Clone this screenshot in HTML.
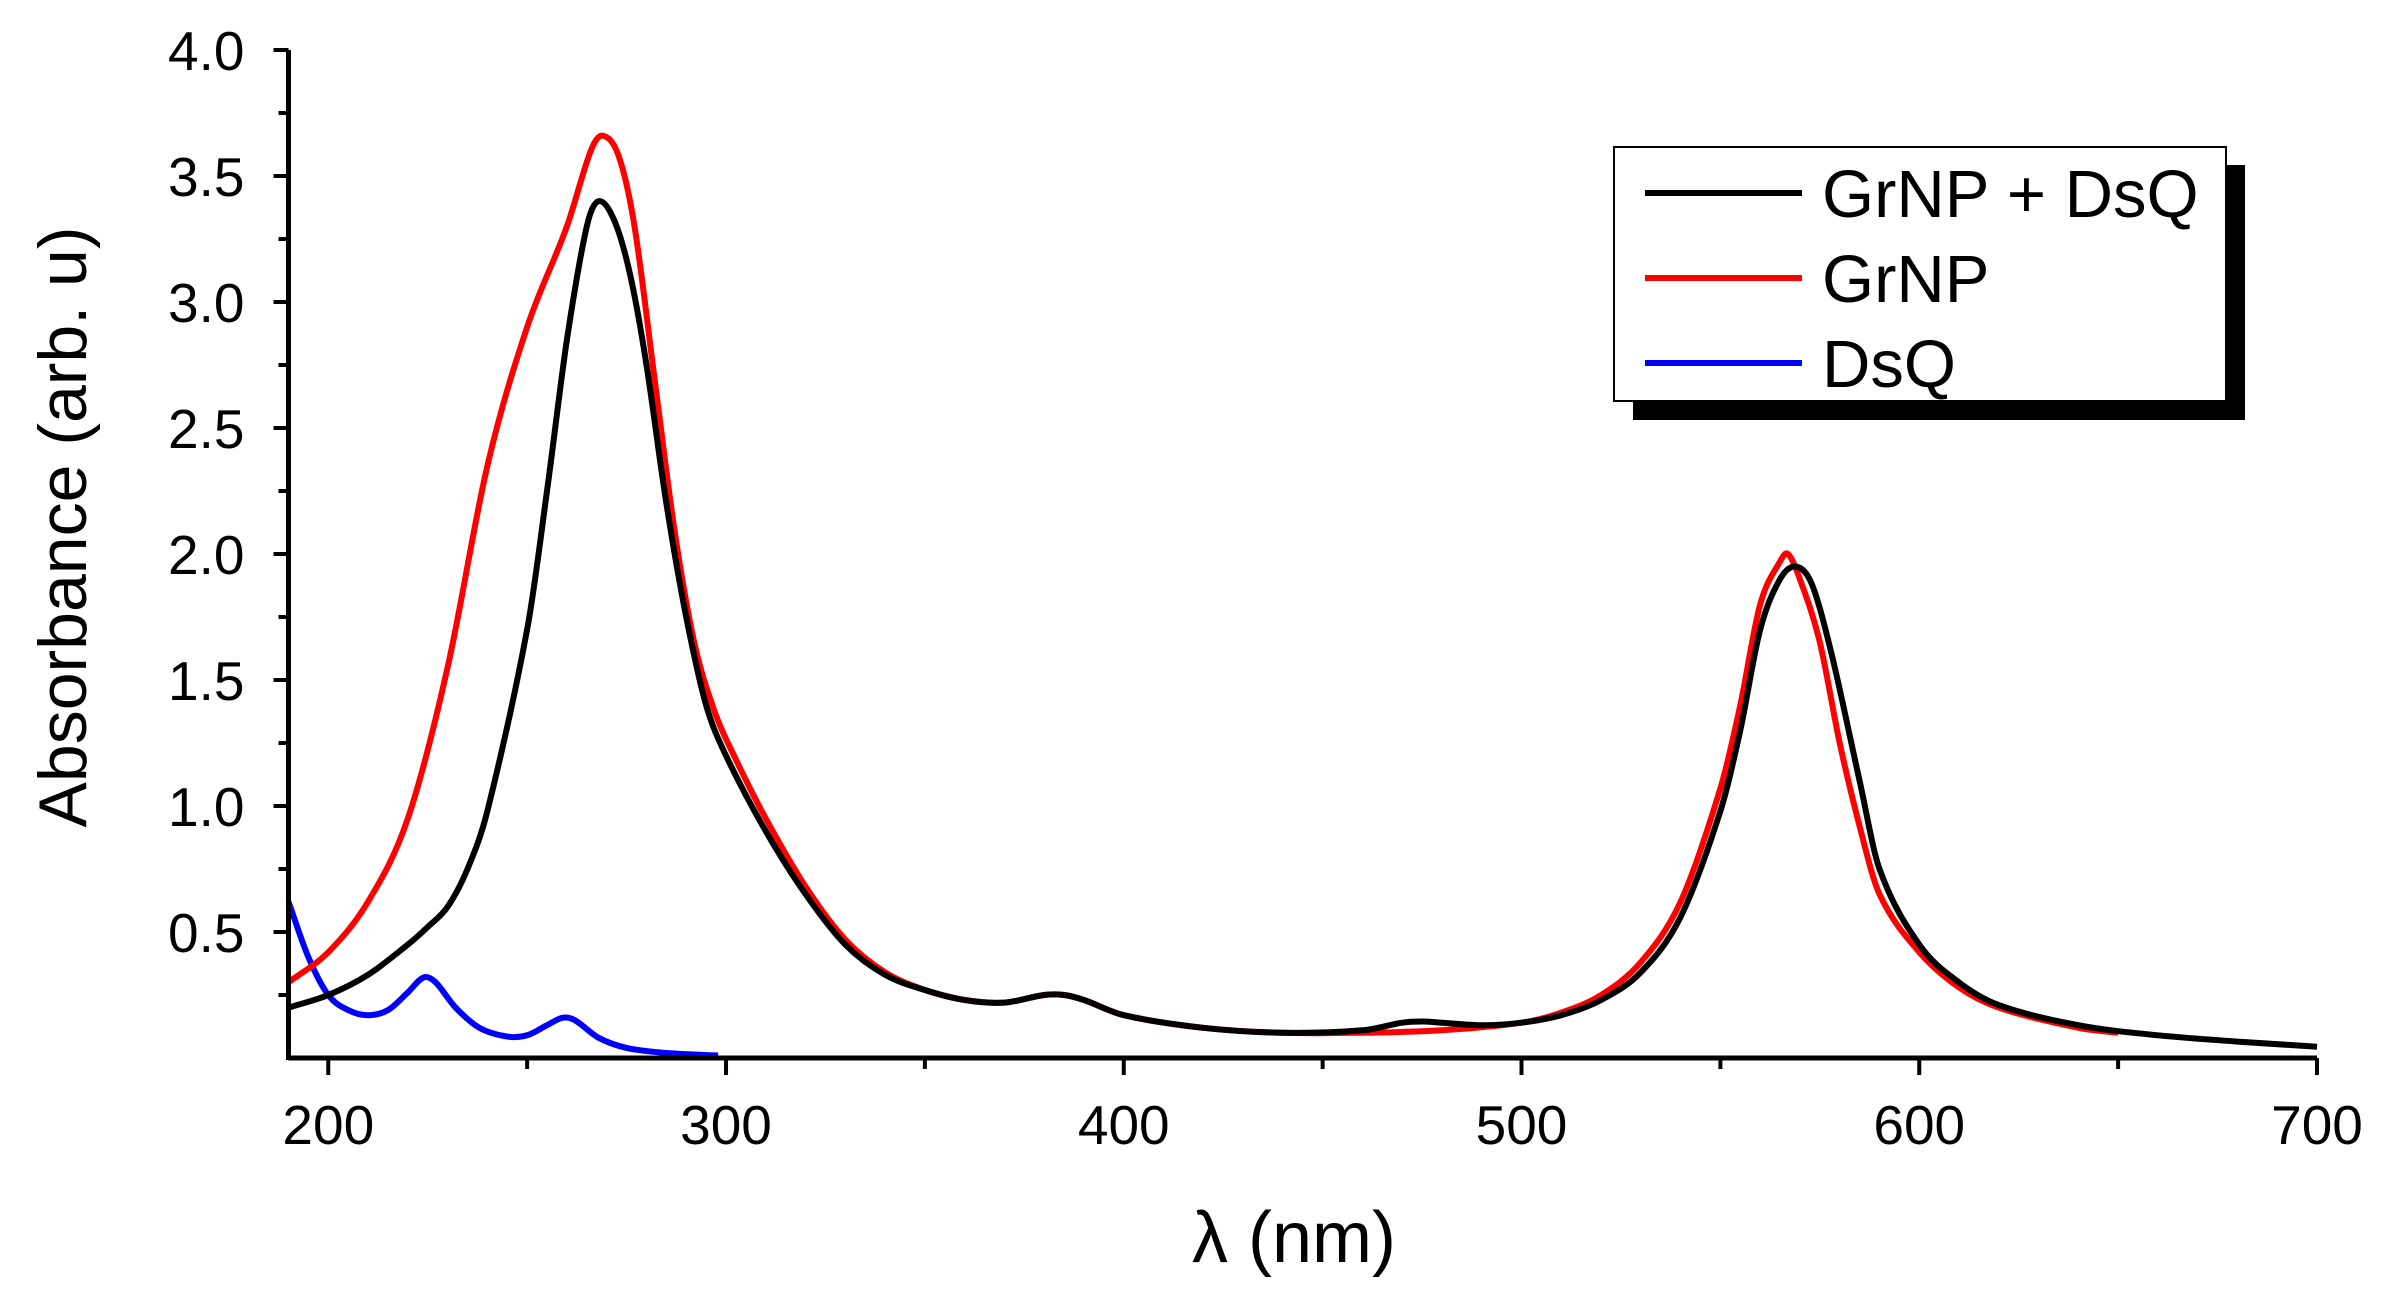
<!DOCTYPE html>
<html><head><meta charset="utf-8"><style>
html,body{margin:0;padding:0;background:#fff;}
svg{display:block;}
text{font-family:"Liberation Sans",Arial,sans-serif;fill:#000;}
</style></head><body>
<svg id="chart" width="2381" height="1296" viewBox="0 0 2381 1296" xmlns="http://www.w3.org/2000/svg">
<g id="plot"></g>
<g id="axes"></g>
<g id="legend">
  <rect x="1633" y="165" width="612" height="255" fill="#000"/>
  <rect x="1614" y="147" width="612" height="254" fill="#fff" stroke="#000" stroke-width="2"/>
  <g>
    <line x1="1645" y1="193" x2="1802" y2="193" stroke="#000" stroke-width="6"/>
    <text x="1822" y="217" font-size="67">GrNP + DsQ</text>
  </g>
  <g>
    <line x1="1645" y1="278" x2="1802" y2="278" stroke="#f00" stroke-width="6"/>
    <text x="1822" y="302" font-size="67">GrNP</text>
  </g>
  <g>
    <line x1="1645" y1="363" x2="1802" y2="363" stroke="#00f" stroke-width="6"/>
    <text x="1822" y="387" font-size="67">DsQ</text>
  </g>
</g>
<text x="1294" y="1262" font-size="72" text-anchor="middle">λ (nm)</text>
<text transform="translate(86,527) rotate(-90)" font-size="68" text-anchor="middle">Absorbance (arb. u)</text>
</svg>
<script>
const xTicks = [200, 300, 400, 500, 600, 700];
const yTicks = [0.5, 1.0, 1.5, 2.0, 2.5, 3.0, 3.5, 4.0];
const yTickLabels = ["0.5", "1.0", "1.5", "2.0", "2.5", "3.0", "3.5", "4.0"];
const blackX = [190,200,210,220,225,230,235,240,250,255,260,265,268,272,276,280,285,290,295,300,310,320,330,340,350,360,370,380,385,390,400,420,440,460,470,475,480,490,500,510,520,530,540,550,555,560,565,569,573,578,585,590,600,610,620,640,660,680,700];
const blackY = [0.2,0.25,0.33,0.45,0.52,0.6,0.75,0.98,1.7,2.25,2.85,3.3,3.4,3.32,3.1,2.75,2.2,1.75,1.4,1.2,0.9,0.65,0.45,0.33,0.27,0.23,0.22,0.25,0.25,0.23,0.17,0.12,0.1,0.11,0.14,0.145,0.14,0.13,0.14,0.17,0.23,0.34,0.56,0.98,1.3,1.7,1.9,1.95,1.88,1.6,1.1,0.75,0.45,0.3,0.21,0.13,0.09,0.065,0.045];
const redX = [190,200,210,220,230,240,250,260,266,269,273,277,282,287,292,297,302,310,320,330,340,350,360,370,380,385,390,400,420,440,460,480,500,510,520,530,540,550,555,560,565,567,570,575,580,585,590,600,610,620,640,650];
const redY = [0.3,0.42,0.62,0.95,1.55,2.35,2.9,3.3,3.6,3.66,3.58,3.3,2.7,2.1,1.65,1.38,1.2,0.95,0.68,0.47,0.34,0.27,0.23,0.22,0.25,0.25,0.23,0.17,0.12,0.1,0.1,0.11,0.14,0.18,0.25,0.38,0.62,1.07,1.4,1.8,1.97,2.0,1.9,1.65,1.25,0.92,0.65,0.42,0.28,0.2,0.12,0.1];
const blueX = [190,195,200,205,210,215,220,224,227,232,238,245,250,255,259,262,268,275,285,298];
const blueY = [0.62,0.4,0.25,0.19,0.17,0.19,0.26,0.32,0.3,0.2,0.12,0.085,0.09,0.13,0.16,0.15,0.08,0.04,0.02,0.01];

const X0 = 190, X1 = 700, PX0 = 288.5, PX1 = 2317;
const Y0 = 0, Y1 = 4, PY0 = 1058, PY1 = 50;
function sx(v){ return PX0 + (v - X0) / (X1 - X0) * (PX1 - PX0); }
function sy(v){ return PY0 + (v - Y0) / (Y1 - Y0) * (PY1 - PY0); }
const NS = "http://www.w3.org/2000/svg";
function mk(tag, attrs, parent){ const e = document.createElementNS(NS, tag); for (const k in attrs) e.setAttribute(k, attrs[k]); parent.appendChild(e); return e; }
function smoothPath(xs, ys){
  const p = xs.map((x,i)=>[sx(x), sy(ys[i])]);
  const n = p.length;
  const m = p.map((pt,i)=>{
    const a = p[Math.max(0,i-1)], b = p[Math.min(n-1,i+1)];
    return (b[1]-a[1])/(b[0]-a[0]);
  });
  let d = "M" + p[0][0].toFixed(1) + "," + p[0][1].toFixed(1);
  for (let i = 0; i < n - 1; i++){
    const dx = (p[i+1][0] - p[i][0]) / 3;
    d += " C" + (p[i][0]+dx).toFixed(1) + "," + (p[i][1]+m[i]*dx).toFixed(1) + " " + (p[i+1][0]-dx).toFixed(1) + "," + (p[i+1][1]-m[i+1]*dx).toFixed(1) + " " + p[i+1][0].toFixed(1) + "," + p[i+1][1].toFixed(1);
  }
  return d;
}
const plot = document.getElementById("plot");
const axes = document.getElementById("axes");
const sBlue = mk("path", {d: smoothPath(blueX, blueY), fill:"none", stroke:"#00f", "stroke-width":6, "stroke-linejoin":"round"}, plot);


const sRed = mk("path", {d: smoothPath(redX, redY), fill:"none", stroke:"#f00", "stroke-width":6, "stroke-linejoin":"round"}, plot);


const sBlack = mk("path", {d: smoothPath(blackX, blackY), fill:"none", stroke:"#000", "stroke-width":6, "stroke-linejoin":"round"}, plot);



const xAxis = mk("line", {x1:PX0, y1:PY0, x2:PX1, y2:PY0, stroke:"#000", "stroke-width":5}, axes);


const yAxis = mk("line", {x1:PX0, y1:PY0+2, x2:PX0, y2:PY1, stroke:"#000", "stroke-width":5}, axes);


xTicks.forEach(v=>{
  const t = mk("line", {x1:sx(v), y1:PY0, x2:sx(v), y2:PY0+17, stroke:"#000", "stroke-width":4}, axes);
  
  
  const l = mk("text", {x:sx(v), y:PY0+86, "font-size":55, "text-anchor":"middle"}, axes);
  l.textContent = String(v);
  
  
  if (v + 50 < X1){
    const m = mk("line", {x1:sx(v+50), y1:PY0, x2:sx(v+50), y2:PY0+11, stroke:"#000", "stroke-width":4}, axes);
    
    
  }
});
yTicks.forEach((v,i)=>{
  const t = mk("line", {x1:PX0-15, y1:sy(v), x2:PX0, y2:sy(v), stroke:"#000", "stroke-width":4}, axes);
  
  
  const l = mk("text", {x:PX0-44, y:sy(v)+20, "font-size":55, "text-anchor":"end"}, axes);
  l.textContent = yTickLabels[i];
  
  
  const m = mk("line", {x1:PX0-10, y1:sy(v-0.25), x2:PX0, y2:sy(v-0.25), stroke:"#000", "stroke-width":4}, axes);
  
  
});
</script>
</body></html>
